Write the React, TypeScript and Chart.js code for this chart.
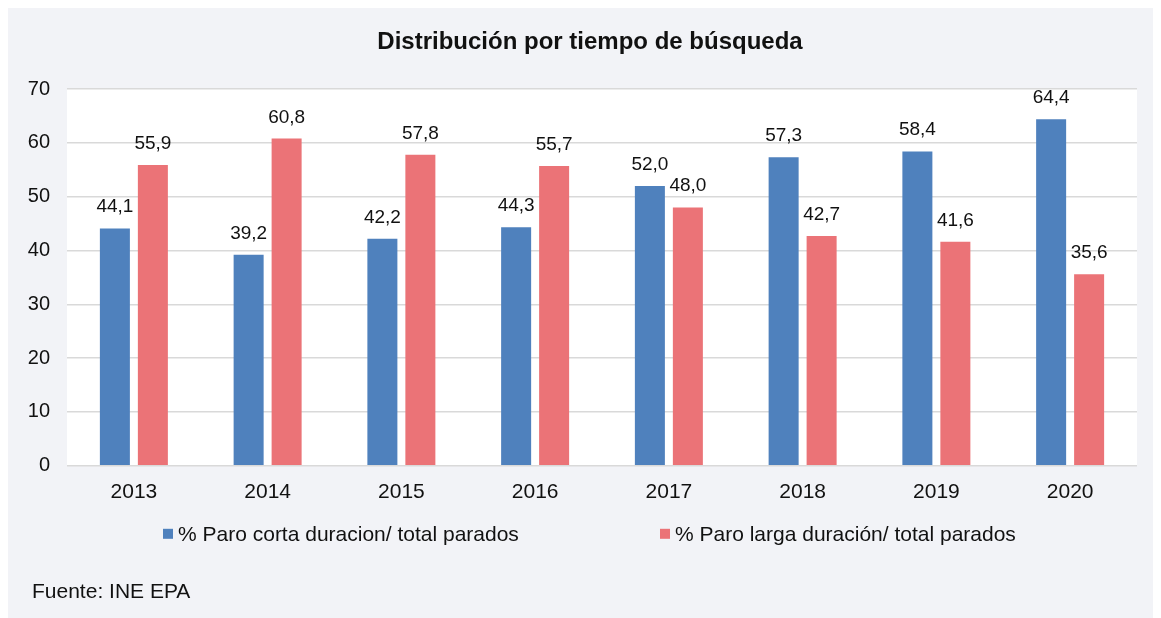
import React, { useEffect, useRef } from "react";
import { Chart, registerables } from "chart.js";

Chart.register(...registerables);

const years = ["2013", "2014", "2015", "2016", "2017", "2018", "2019", "2020"];
const cortaDuracion = [44.1, 39.2, 42.2, 44.3, 52.0, 57.3, 58.4, 64.4];
const largaDuracion = [55.9, 60.8, 57.8, 55.7, 48.0, 42.7, 41.6, 35.6];
const seriesLabels = [
  "% Paro corta duracion/ total parados",
  "% Paro larga duración/ total parados",
];
const titleText = "Distribución por tiempo de búsqueda";
const sourceText = "Fuente: INE EPA";
const yMin = 0;
const yMax = 70;
const yStep = 10;

const FONT = "'Liberation Sans', Arial, Helvetica, sans-serif";
const BLUE = "#4f81bd";
const RED = "#eb7377";

const plotBg = {
  id: "plotBg",
  beforeDraw(chart: any) {
    const { ctx, chartArea } = chart;
    ctx.save();
    ctx.fillStyle = "#ffffff";
    ctx.fillRect(chartArea.left, chartArea.top, chartArea.right - chartArea.left, chartArea.bottom - chartArea.top);
    ctx.restore();
  },
};

const valueLabels = {
  id: "valueLabels",
  afterDatasetsDraw(chart: any) {
    const { ctx } = chart;
    ctx.save();
    ctx.font = `19px ${FONT}`;
    ctx.fillStyle = "#111111";
    ctx.textAlign = "center";
    ctx.textBaseline = "alphabetic";
    chart.data.datasets.forEach((ds: any, di: number) => {
      const meta = chart.getDatasetMeta(di);
      meta.data.forEach((bar: any, i: number) => {
        const v = ds.data[i] as number;
        ctx.fillText(v.toFixed(1).replace(".", ","), bar.x, bar.y - 16);
      });
    });
    ctx.restore();
  },
};

const texts = {
  id: "texts",
  afterDraw(chart: any) {
    const { ctx, chartArea } = chart;
    ctx.save();
    // title
    ctx.font = `bold 24px ${FONT}`;
    ctx.fillStyle = "#111111";
    ctx.textAlign = "center";
    ctx.textBaseline = "middle";
    ctx.fillText(titleText, 582, 34);
    // legend
    ctx.font = `21px ${FONT}`;
    ctx.textAlign = "left";
    const ly = chartArea.bottom + 68;
    const starts = [chartArea.left + 96, chartArea.left + 593];
    chart.data.datasets.forEach((ds: any, i: number) => {
      const x = starts[i];
      ctx.fillStyle = ds.backgroundColor;
      ctx.fillRect(x, ly - 5, 10, 10);
      ctx.fillStyle = "#111111";
      ctx.fillText(ds.label, x + 15, ly + 1);
    });
    // source
    ctx.font = `21px ${FONT}`;
    ctx.fillStyle = "#111111";
    ctx.fillText(sourceText, 24, chartArea.bottom + 126);
    ctx.restore();
  },
};

export default function App() {
  const ref = useRef<HTMLCanvasElement | null>(null);

  useEffect(() => {
    if (!ref.current) return;
    const chart = new Chart(ref.current, {
      type: "bar",
      data: {
        labels: years,
        datasets: [
          {
            label: seriesLabels[0],
            data: cortaDuracion,
            backgroundColor: BLUE,
            barPercentage: 0.79,
            categoryPercentage: 0.568,
          },
          {
            label: seriesLabels[1],
            data: largaDuracion,
            backgroundColor: RED,
            barPercentage: 0.79,
            categoryPercentage: 0.568,
          },
        ],
      },
      options: {
        responsive: true,
        maintainAspectRatio: false,
        animation: false,
        layout: { padding: { left: 0, right: 24, top: 81, bottom: 100 } },
        plugins: {
          legend: { display: false },
          tooltip: { enabled: false },
          title: { display: false },
        },
        scales: {
          x: {
            grid: { display: false, drawTicks: false },
            border: { display: false },
            ticks: {
              color: "#111111",
              font: { family: FONT, size: 21 },
              padding: 14,
            },
          },
          y: {
            min: yMin,
            max: yMax,
            grid: { color: "#d9d9d9", lineWidth: 1.5, drawTicks: false },
            border: { display: false },
            ticks: {
              stepSize: yStep,
              color: "#111111",
              font: { family: FONT, size: 20 },
              padding: 17,
            },
            afterFit(scale: any) {
              scale.width = 59;
            },
          },
        },
      },
      plugins: [plotBg, valueLabels, texts],
    });
    return () => chart.destroy();
  }, []);

  return (
    <div style={{ width: 1153, height: 611, background: "#f2f3f7", position: "relative" }}>
      <canvas ref={ref} />
    </div>
  );
}
